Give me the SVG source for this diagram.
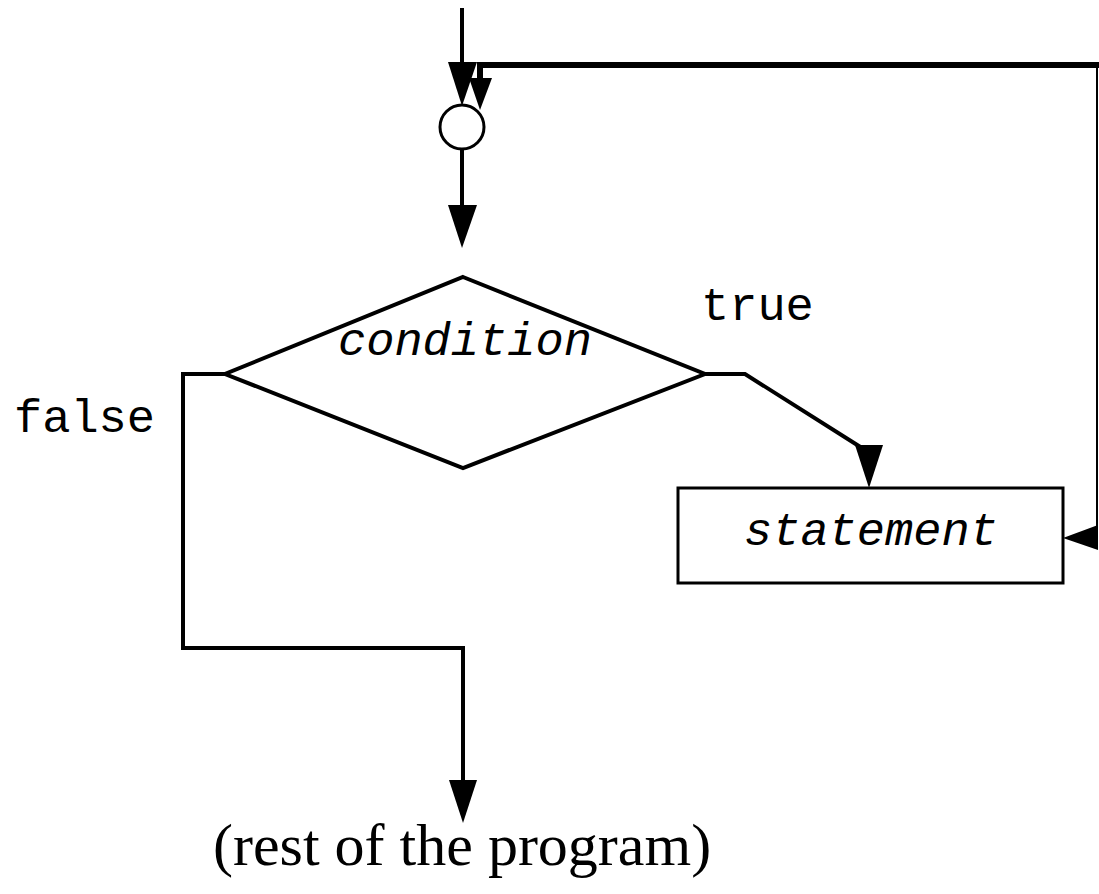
<svg xmlns="http://www.w3.org/2000/svg" width="1099" height="894" viewBox="0 0 1099 894">
  <style>
    .ln { fill: none; stroke: #000; stroke-width: 4; stroke-linejoin: miter; }
    .thick { fill: none; stroke: #000; stroke-width: 6; }
    .shape { fill: #fff; stroke: #000; stroke-width: 3; }
    .head { fill: #000; stroke: none; }
    .mono { font-family: "Liberation Mono", "DejaVu Sans Mono", monospace; font-size: 47px; fill: #000; }
    .it { font-style: italic; }
    .serif { font-family: "Liberation Serif", "Times New Roman", serif; font-size: 60px; fill: #000; }
  </style>

  <!-- connectors -->
  <g id="connectors">
    <!-- entry into the junction -->
    <line class="ln" x1="462" y1="8" x2="462" y2="64"/>
    <polygon class="head" points="448,62 477,62 462,106"/>
    <!-- loop back from statement -->
    <polyline class="ln" points="1097,538 1097,65" style="stroke-width:2"/>
    <polyline class="thick" points="1099,65 480,65 480,80"/>
    <polygon class="head" points="469,78 492,78 480,110"/>
    <!-- junction to condition -->
    <line class="ln" x1="462" y1="150" x2="462" y2="207"/>
    <polygon class="head" points="448,205 477,205 462,248"/>
    <!-- true branch -->
    <polyline class="ln" points="705,374 745,374 862,448"/>
    <polygon class="head" points="855,445 883,445 869,488"/>
    <!-- loop arrow into statement -->
    <polygon class="head" points="1063,538 1098,525 1098,550"/>
    <!-- false branch -->
    <polyline class="ln" points="225,374 183,374 183,648 463,648 463,782"/>
    <polygon class="head" points="449,780 477,780 463,823"/>
  </g>

  <!-- junction circle -->
  <g id="junction">
    <circle class="shape" cx="462" cy="127" r="22"/>
  </g>

  <!-- decision -->
  <g id="condition">
    <polygon class="shape" points="463,277 705,374 463,468 225,374" style="stroke-width:4"/>
    <text class="mono it" x="338" y="355">condition</text>
  </g>

  <!-- loop body -->
  <g id="statement">
    <rect class="shape" x="678" y="488" width="385" height="95"/>
    <text class="mono it" x="744" y="545">statement</text>
  </g>

  <!-- branch labels -->
  <g id="labels">
    <text class="mono" x="701" y="320">true</text>
    <text class="mono" x="14" y="432">false</text>
  </g>

  <!-- exit -->
  <g id="rest">
    <text class="serif" x="213" y="865">(rest of the program)</text>
  </g>
</svg>
